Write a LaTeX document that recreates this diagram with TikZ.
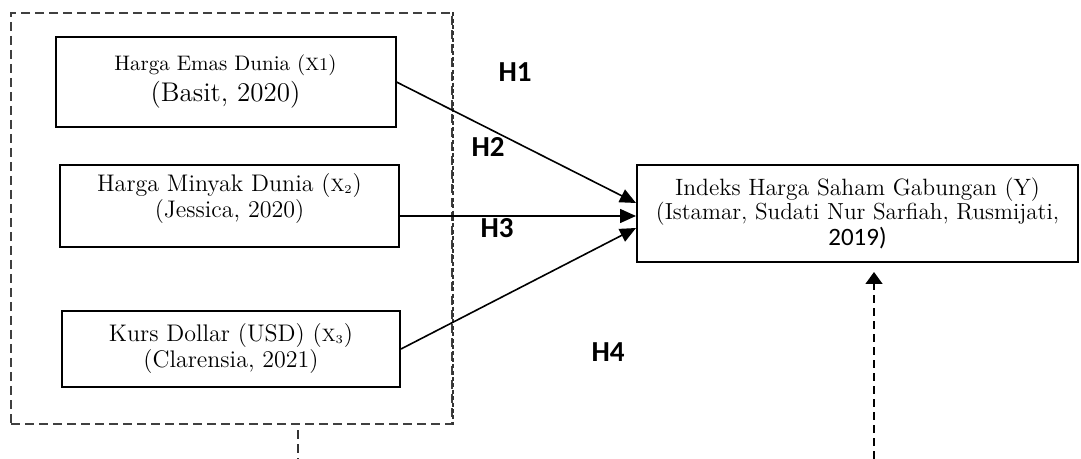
\documentclass[tikz,border=0pt]{standalone}
\usepackage{fontspec}
\newfontfamily\calibri{Carlito}
\usetikzlibrary{arrows.meta, calc}

\tikzset{
  varbox/.style={draw, line width=1pt, align=center, inner sep=0pt},
  hyp/.style={font=\calibri\bfseries\fontsize{14.5}{16}\selectfont},
  grpframe/.style={draw=black!75, line width=0.75pt, dash pattern=on 4.5pt off 2.5pt},
}

\begin{document}
\begin{tikzpicture}[x=0.5pt, y=-0.5pt, >={Triangle[length=8pt, width=7pt]}, line width=0.8pt]
  \useasboundingbox (0,0) rectangle (1081,459);
  % kerangka variabel independen
  \node[grpframe, minimum width=220.5pt, minimum height=205.5pt, inner sep=0pt] (grp) at (231.5,218.5) {};
  \draw[black!80, line width=0.75pt, dash pattern=on 2pt off 1.2pt] (grp.north east) -- (grp.south east);
  % variabel X
  \node[varbox, minimum width=170pt, minimum height=45pt] (b1) at (225.5,82)
    {\fontsize{10.5}{15}\selectfont Harga Emas Dunia ({\small X1})\\[2pt]
     \fontsize{13.5}{15}\selectfont (Basit, 2020)\\[-8pt]};
  \node[varbox, minimum width=169.5pt, minimum height=41pt] (b2) at (229.5,206.5)
    {\fontsize{12}{12.5}\selectfont Harga Minyak Dunia ({\small X\textsubscript{2}})\\
     \fontsize{12}{12.5}\selectfont (Jessica, 2020)\\[-1pt]};
  \node[varbox, minimum width=169pt, minimum height=38pt] (b3) at (231,349)
    {\fontsize{12}{12.5}\selectfont Kurs Dollar (USD) ({\small X\textsubscript{3}})\\
     \fontsize{12}{12.5}\selectfont (Clarensia, 2021)};
  % variabel Y
  \node[varbox, minimum width=220.5pt, minimum height=48.5pt] (Y) at (857.5,213.5)
    {\fontsize{11.8}{13.5}\selectfont Indeks Harga Saham Gabungan (Y)\\
     \fontsize{11.6}{13.5}\selectfont (Istamar, Sudati Nur Sarfiah, Rusmijati,\\
     {\calibri\fontsize{12.5}{15}\selectfont 2019)}};
  % hubungan
  \draw[->] (b1.east) -- ([yshift=5.25pt]Y.west);
  \draw[->] ([yshift=-4.75pt]b2.east) -- ([yshift=-4.75pt]b2.east -| Y.west);
  \draw[->] (b3.east) -- ([yshift=-7.25pt]Y.west);
  % hipotesis
  \node[hyp] (h1) at (515,72) {H1};
  \node[hyp] (h2) at (488,147) {H2};
  \node[hyp] (h3) at (497,228) {H3};
  \node[hyp] (h4) at (608,352) {H4};
  % simultan (putus-putus)
  \coordinate (s1) at (298,430);
  \coordinate (s2) at (298,459);
  \draw[black!80, dash pattern=on 4.5pt off 2.5pt, line width=0.7pt] (s1) -- (s2);
  \coordinate (z1) at (874,459);
  \coordinate (z2) at (874,272);
  \draw[->, >={Triangle[length=6pt, width=8.5pt]}, dash pattern=on 4pt off 2.5pt, line width=0.7pt] (z1) -- (z2);
\end{tikzpicture}
\end{document}
